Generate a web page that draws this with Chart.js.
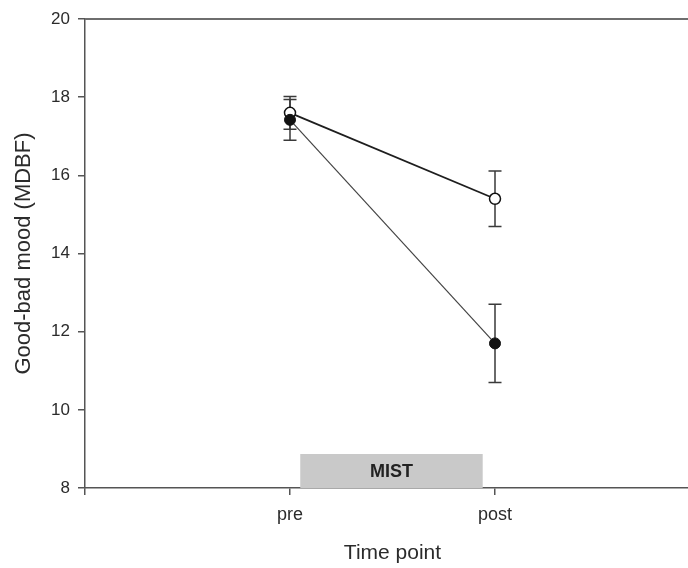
<!DOCTYPE html>
<html>
<head>
<meta charset="utf-8">
<title>Good-bad mood before and after MIST</title>
<script src="https://cdn.jsdelivr.net/npm/chart.js@4.4.1/dist/chart.umd.min.js"></script>
<style>
  html, body { margin: 0; padding: 0; background: #ffffff; overflow: hidden; }
  #wrap { position: relative; width: 707px; height: 568px; }
</style>
</head>
<body>
<div id="wrap"><canvas id="c"></canvas></div>
<script>
// Time points on the x axis (placed at x = 1, 2)
const timePoints = ['pre', 'post'];

// Mean MDBF good-bad mood and standard errors per group
const openMeans   = [17.6, 15.4];
const openErrors  = [0.42, 0.71];
const filledMeans = [17.42, 11.7];
const filledErrors = [0.52, 1.0];

// Axis ticks
const yTicks = [8, 10, 12, 14, 16, 18, 20];

// Stress-task interval shown above the x axis (in axis units)
const taskLabel = 'MIST';
const taskFrom = 1.05;
const taskTo = 1.94;
const taskTop = 8.87;

const FONT = '"Liberation Sans", Arial, Helvetica, sans-serif';
const TEXT = '#2b2b2b';
const AXIS = '#555555';

function toPoints(means) {
  return means.map((m, i) => ({ x: i + 1, y: m }));
}

const errorSets = [openErrors, filledErrors];

// Vertical error bars with caps, drawn under the markers
const errorBars = {
  id: 'errorBars',
  beforeDatasetsDraw(chart) {
    const { ctx, scales: { x, y } } = chart;
    ctx.save();
    ctx.strokeStyle = '#3a3a3a';
    ctx.lineWidth = 1.5;
    chart.data.datasets.forEach((ds, di) => {
      const errs = errorSets[di];
      ds.data.forEach((p, i) => {
        const px = x.getPixelForValue(p.x);
        const top = y.getPixelForValue(p.y + errs[i]);
        const bot = y.getPixelForValue(p.y - errs[i]);
        ctx.beginPath();
        ctx.moveTo(px, top); ctx.lineTo(px, bot);
        ctx.moveTo(px - 6.5, top); ctx.lineTo(px + 6.5, top);
        ctx.moveTo(px - 6.5, bot); ctx.lineTo(px + 6.5, bot);
        ctx.stroke();
      });
    });
    ctx.restore();
  }
};

// Grey band marking the MIST task, plus the top frame line
const decorations = {
  id: 'decorations',
  beforeDatasetsDraw(chart) {
    const { ctx, chartArea, scales: { x, y } } = chart;
    ctx.save();
    const x0 = x.getPixelForValue(taskFrom);
    const x1 = x.getPixelForValue(taskTo);
    const y0 = y.getPixelForValue(taskTop);
    const y1 = y.getPixelForValue(8);
    ctx.fillStyle = '#c9c9c9';
    ctx.fillRect(x0, y0, x1 - x0, y1 - y0);
    ctx.fillStyle = '#222222';
    ctx.font = 'bold 18px ' + FONT;
    ctx.textAlign = 'center';
    ctx.textBaseline = 'middle';
    ctx.fillText(taskLabel, (x0 + x1) / 2, (y0 + y1) / 2 + 1);

    ctx.strokeStyle = '#6e6e6e';
    ctx.lineWidth = 2;
    ctx.beginPath();
    ctx.moveTo(chartArea.left, y.getPixelForValue(20));
    ctx.lineTo(chartArea.right + 5, y.getPixelForValue(20));
    ctx.stroke();
    ctx.restore();
  }
};

new Chart(document.getElementById('c'), {
  type: 'line',
  data: {
    datasets: [
      {
        label: 'open',
        data: toPoints(openMeans),
        borderColor: '#1e1e1e',
        borderWidth: 1.8,
        pointRadius: 5.5,
        pointBackgroundColor: '#ffffff',
        pointBorderColor: '#111111',
        pointBorderWidth: 1.5,
        tension: 0,
        order: 2
      },
      {
        label: 'filled',
        data: toPoints(filledMeans),
        borderColor: '#444444',
        borderWidth: 1.2,
        pointRadius: 5.5,
        pointBackgroundColor: '#111111',
        pointBorderColor: '#111111',
        pointBorderWidth: 1,
        tension: 0,
        order: 1
      }
    ]
  },
  options: {
    responsive: true,
    maintainAspectRatio: false,
    animation: false,
    devicePixelRatio: 1,
    layout: { padding: { top: 19, right: 1.5, bottom: 0, left: 0 } },
    plugins: { legend: { display: false }, tooltip: { enabled: false } },
    scales: {
      x: {
        type: 'linear',
        min: 0,
        max: 3,
        afterBuildTicks(scale) {
          scale.ticks = [0, 1, 2, 3].map(v => ({ value: v }));
        },
        afterFit(scale) {
          scale.height = 80;
          scale.paddingLeft = 0;
          scale.paddingRight = 0;
        },
        grid: { drawOnChartArea: false, drawTicks: true, tickLength: 7, color: AXIS, lineWidth: 1.5 },
        border: { display: true, color: AXIS, width: 1.5 },
        ticks: {
          color: TEXT,
          font: { family: FONT, size: 18 },
          padding: 9,
          maxRotation: 0,
          callback: v => (v >= 1 && v <= timePoints.length) ? timePoints[v - 1] : ''
        },
        title: {
          display: true,
          text: 'Time point',
          color: TEXT,
          font: { family: FONT, size: 21 },
          padding: { top: 0, bottom: 2 }
        }
      },
      y: {
        type: 'linear',
        min: 8,
        max: 20,
        afterBuildTicks(scale) {
          scale.ticks = yTicks.map(v => ({ value: v }));
        },
        afterFit(scale) { scale.width = 85; },
        grid: { drawOnChartArea: false, drawTicks: true, tickLength: 7, color: AXIS, lineWidth: 1.5 },
        border: { display: true, color: AXIS, width: 1.5 },
        ticks: {
          color: TEXT,
          font: { family: FONT, size: 17 },
          padding: 8
        },
        title: {
          display: true,
          text: 'Good-bad mood (MDBF)',
          color: TEXT,
          font: { family: FONT, size: 22 },
          padding: { top: 11, bottom: 0 }
        }
      }
    }
  },
  plugins: [decorations, errorBars]
});
</script>
</body>
</html>
